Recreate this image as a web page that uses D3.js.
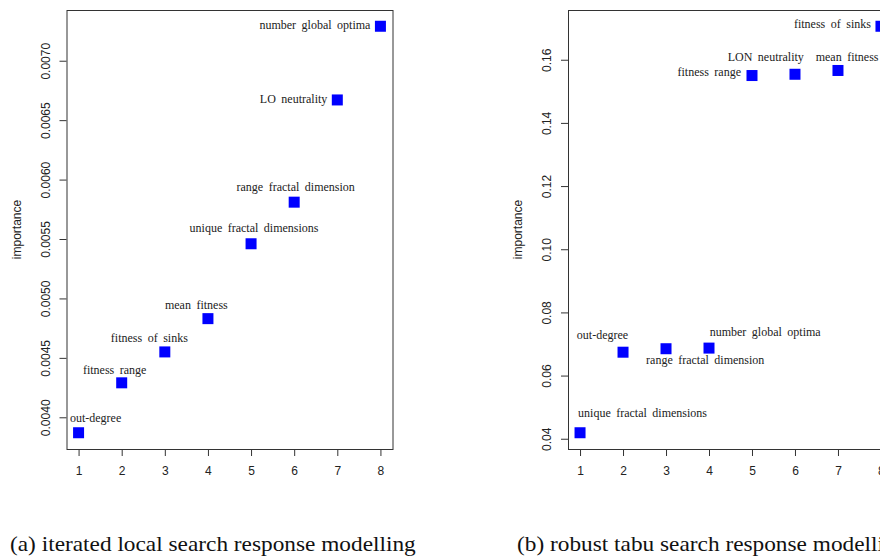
<!DOCTYPE html>
<html>
<head>
<meta charset="utf-8">
<script src="https://cdn.jsdelivr.net/npm/d3@7"></script>
<style>
body { margin: 0; background: #fff; }
svg { display: block; }
</style>
</head>
<body>
<svg></svg>
<script>
var svg = d3.select('svg');

var width = 880;
var height = 556;

svg.attr("width", width)
   .attr("height", height);

// positions on the x axis (rank order)
var ranks = [1, 2, 3, 4, 5, 6, 7, 8];

// (a) iterated local search
var ilsLabels = ["out-degree", "fitness range", "fitness of sinks", "mean fitness",
                 "unique fractal dimensions", "range fractal dimension",
                 "LO neutrality", "number global optima"];
var ilsValues = [0.00387, 0.00429, 0.00455, 0.00483, 0.00546, 0.00581, 0.00667, 0.00729];
var ilsTicks = [0.0040, 0.0045, 0.0050, 0.0055, 0.0060, 0.0065, 0.0070];

// (b) robust tabu search
var rtsLabels = ["unique fractal dimensions", "out-degree", "range fractal dimension",
                 "number global optima", "fitness range", "LON neutrality",
                 "mean fitness", "fitness of sinks"];
var rtsValues = [0.0419, 0.0674, 0.0685, 0.0687, 0.1550, 0.1554, 0.1566, 0.1706];
var rtsTicks = [0.04, 0.06, 0.08, 0.10, 0.12, 0.14, 0.16];

var captions = ["(a) iterated local search response modelling",
                "(b) robust tabu search response modelling"];

// label nudges, in pixels from the point centre (hand placed as in the original)
var ilsNudge = [[17, -11, "middle"], [-7, -8.5, "middle"], [-15.5, -9.6, "middle"], [-11.6, -9.3, "middle"],
                [3, -12, "middle"], [1.5, -10.7, "middle"], [-10, 3.3, "end"], [-10, 3, "end"]];
var rtsNudge = [[62.5, -15.6, "middle"], [-20.5, -13.3, "middle"], [39.2, 15, "middle"], [56.2, -12, "middle"],
                [-11, 0.8, "end"], [-29.2, -13, "middle"], [-22.3, -9, "start"], [-10, 1.8, "end"]];

function pad(ext) {
  var d = (ext[1] - ext[0]) * 0.04;
  return [ext[0] - d, ext[1] + d];
}

function drawPanel(left, right, values, labels, ticks, fmt, nudge) {
  var top = 10, bottom = 449;
  var g = svg.append("g");

  var scaleX = d3.scaleLinear()
                 .domain(pad(d3.extent(ranks)))
                 .range([left, right]);

  var scaleY = d3.scaleLinear()
                 .domain(pad(d3.extent(values)))
                 .range([bottom, top]);

  var xAxis = g.append("g")
               .attr("transform", "translate(0," + bottom + ")")
               .call(d3.axisBottom(scaleX).tickValues(ranks).tickSize(7).tickFormat(d3.format("d")));
  xAxis.select(".domain").remove();
  xAxis.selectAll("text")
       .attr("y", 26).attr("dy", 0)
       .style("font-family", "'Liberation Sans', Arial, sans-serif")
       .style("font-size", "12px")
       .attr("fill", "#222");

  var yAxis = g.append("g")
               .attr("transform", "translate(" + left + ",0)")
               .call(d3.axisLeft(scaleY).tickValues(ticks).tickSize(7).tickFormat(d3.format(fmt)));
  yAxis.select(".domain").remove();
  yAxis.selectAll("text")
       .attr("transform", "rotate(-90)")
       .attr("x", 0).attr("y", -17).attr("dy", 0)
       .attr("text-anchor", "middle")
       .style("font-family", "'Liberation Sans', Arial, sans-serif")
       .style("font-size", "12px")
       .attr("fill", "#222");
  g.selectAll(".tick line").attr("stroke", "#333");

  g.append("rect")
   .attr("x", left + 0.5)
   .attr("y", top + 0.5)
   .attr("width", right - left)
   .attr("height", bottom - top)
   .attr("fill", "none")
   .attr("stroke", "#333")
   .attr("stroke-width", 1);

  g.append("text")
   .attr("transform", "translate(" + (left - 46) + "," + ((top + bottom) / 2) + ") rotate(-90)")
   .attr("text-anchor", "middle")
   .style("font-family", "'Liberation Sans', Arial, sans-serif")
   .style("font-size", "12px")
   .attr("fill", "#222")
   .text("importance");

  var pts = ranks.map(function(r, i) { return { x: r, y: values[i], label: labels[i], n: nudge[i] }; });

  g.selectAll("rect.pt")
   .data(pts)
   .enter()
   .append("rect")
   .attr("class", "pt")
   .attr("x", function(d) { return scaleX(d.x) - 5.5 })
   .attr("y", function(d) { return scaleY(d.y) - 5.5 })
   .attr("width", 11)
   .attr("height", 11)
   .attr("fill", "#0000ff");

  g.selectAll("text.lab")
   .data(pts)
   .enter()
   .append("text")
   .attr("class", "lab")
   .attr("x", function(d) { return scaleX(d.x) + d.n[0] })
   .attr("y", function(d) { return scaleY(d.y) + d.n[1] })
   .attr("text-anchor", function(d) { return d.n[2] })
   .style("font-family", "'Liberation Serif', 'Times New Roman', serif")
   .style("font-size", "12px")
   .style("word-spacing", "2.5px")
   .attr("fill", "#222")
   .text(function(d) { return d.label });
}

drawPanel(66.5, 392.5, ilsValues, ilsLabels, ilsTicks, ".4f", ilsNudge);
drawPanel(568, 893, rtsValues, rtsLabels, rtsTicks, ".2f", rtsNudge);

// sub-figure captions, widened to match the original serif face
var capX = [10, 517];
svg.selectAll("text.cap")
   .data(captions)
   .enter()
   .append("text")
   .attr("class", "cap")
   .attr("transform", function(d, i) { return "translate(" + capX[i] + ",551) scale(1.06,1)" })
   .style("font-family", "'Liberation Serif', 'Times New Roman', serif")
   .style("font-size", "22px")
   .attr("fill", "#111")
   .text(function(d) { return d });
</script>
</body>
</html>
